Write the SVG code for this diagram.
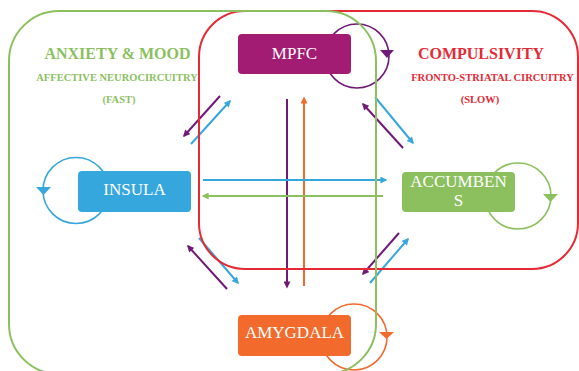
<svg xmlns="http://www.w3.org/2000/svg" width="579" height="371" viewBox="0 0 579 371">
  <style>
    .frame { fill: none; stroke-width: 2; }
    .loop { fill: none; stroke-width: 1.6; }
    .arrow { fill: none; stroke-width: 2; }
    .box-label { font-family: "Liberation Serif", "Times New Roman", serif; font-size: 17px; fill: #ffffff; text-anchor: middle; }
    .title { font-family: "Liberation Serif", "Times New Roman", serif; font-weight: bold; font-size: 16px; text-anchor: middle; }
    .sub { font-family: "Liberation Serif", "Times New Roman", serif; font-weight: bold; font-size: 10.5px; text-anchor: middle; }
    .purple { stroke: #701a78; }
    .blue { stroke: #36a7dd; }
    .orange { stroke: #f26a2c; }
    .green { stroke: #8cc05f; }
  </style>
  <defs>
    <marker id="head-purple" viewBox="0 0 10 10" refX="8" refY="5" markerWidth="8" markerHeight="7" markerUnits="userSpaceOnUse" orient="auto">
      <path d="M0,0 L10,5 L0,10 Z" fill="#701a78"/>
    </marker>
    <marker id="head-blue" viewBox="0 0 10 10" refX="8" refY="5" markerWidth="8" markerHeight="7" markerUnits="userSpaceOnUse" orient="auto">
      <path d="M0,0 L10,5 L0,10 Z" fill="#36a7dd"/>
    </marker>
    <marker id="head-orange" viewBox="0 0 10 10" refX="8" refY="5" markerWidth="8" markerHeight="7" markerUnits="userSpaceOnUse" orient="auto">
      <path d="M0,0 L10,5 L0,10 Z" fill="#f26a2c"/>
    </marker>
    <marker id="head-green" viewBox="0 0 10 10" refX="8" refY="5" markerWidth="8" markerHeight="7" markerUnits="userSpaceOnUse" orient="auto">
      <path d="M0,0 L10,5 L0,10 Z" fill="#8cc05f"/>
    </marker>
  </defs>

  <rect width="579" height="371" fill="#ffffff"/>

  <!-- self-loops behind the nodes -->
  <g id="loops">
    <circle class="loop purple" cx="357" cy="56" r="32"/>
    <polygon points="380,50 394,50 387,58" fill="#701a78"/>
    <circle class="loop blue" cx="76" cy="190.5" r="33"/>
    <polygon points="36,187 51,187 43.5,195" fill="#36a7dd"/>
    <circle class="loop green" cx="518" cy="196" r="33"/>
    <polygon points="543,194 558,194 550.5,202" fill="#8cc05f"/>
    <circle class="loop orange" cx="354" cy="337" r="33"/>
    <polygon points="379,332 394,332 386.5,339" fill="#f26a2c"/>
  </g>

  <!-- connectors -->
  <g id="connectors">
    <line class="arrow purple" x1="287" y1="99" x2="287" y2="287" marker-end="url(#head-purple)"/>
    <line class="arrow orange" x1="304" y1="286" x2="304" y2="98" marker-end="url(#head-orange)"/>
    <line class="arrow blue" x1="203" y1="180" x2="386" y2="180" marker-end="url(#head-blue)"/>
    <line class="arrow green" x1="383" y1="196" x2="203" y2="196" marker-end="url(#head-green)"/>

    <line class="arrow purple" x1="220" y1="96" x2="184" y2="136" marker-end="url(#head-purple)"/>
    <line class="arrow blue" x1="191" y1="144" x2="230" y2="101" marker-end="url(#head-blue)"/>

    <line class="arrow blue" x1="375" y1="97" x2="413" y2="143" marker-end="url(#head-blue)"/>
    <line class="arrow purple" x1="403" y1="148" x2="363" y2="104" marker-end="url(#head-purple)"/>

    <line class="arrow purple" x1="227" y1="289" x2="188" y2="246" marker-end="url(#head-purple)"/>
    <line class="arrow blue" x1="199" y1="238" x2="238" y2="283" marker-end="url(#head-blue)"/>

    <line class="arrow purple" x1="399" y1="233" x2="363" y2="274" marker-end="url(#head-purple)"/>
    <line class="arrow blue" x1="370" y1="283" x2="408" y2="239" marker-end="url(#head-blue)"/>
  </g>

  <!-- circuit frames -->
  <g id="compulsivity-frame">
    <rect class="frame" x="199" y="11" width="379" height="258" rx="46" ry="46" stroke="#e52a35"/>
  </g>
  <g id="anxiety-frame">
    <rect class="frame" x="9" y="11" width="367" height="363" rx="50" ry="50" stroke="#8cc05f"/>
  </g>

  <!-- nodes -->
  <g id="mpfc">
    <rect x="238" y="34" width="113" height="40" rx="4" fill="#a11c72"/>
    <text class="box-label" x="294.5" y="59">MPFC</text>
  </g>
  <g id="insula">
    <rect x="78" y="171" width="113" height="41" rx="4" fill="#36a7dd"/>
    <text class="box-label" x="134.5" y="195">INSULA</text>
  </g>
  <g id="accumbens">
    <rect x="402" y="172" width="113" height="40" rx="4" fill="#8cc05f"/>
    <text class="box-label" x="458.5" y="186.5"><tspan x="458.5">ACCUMBEN</tspan><tspan x="458.5" dy="19">S</tspan></text>
  </g>
  <g id="amygdala">
    <rect x="238" y="315" width="113" height="41" rx="4" fill="#f26a2c"/>
    <text class="box-label" x="294.5" y="338">AMYGDALA</text>
  </g>

  <!-- circuit labels -->
  <g id="anxiety-label" fill="#8cc05f">
    <text class="title" x="117.5" y="59">ANXIETY &amp; MOOD</text>
    <text class="sub" x="117" y="81">AFFECTIVE NEUROCIRCUITRY</text>
    <text class="sub" x="119" y="103">(FAST)</text>
  </g>
  <g id="compulsivity-label" fill="#e52a35">
    <text class="title" x="481" y="59">COMPULSIVITY</text>
    <text class="sub" x="492.5" y="81">FRONTO-STRIATAL CIRCUITRY</text>
    <text class="sub" x="480" y="103">(SLOW)</text>
  </g>
</svg>
